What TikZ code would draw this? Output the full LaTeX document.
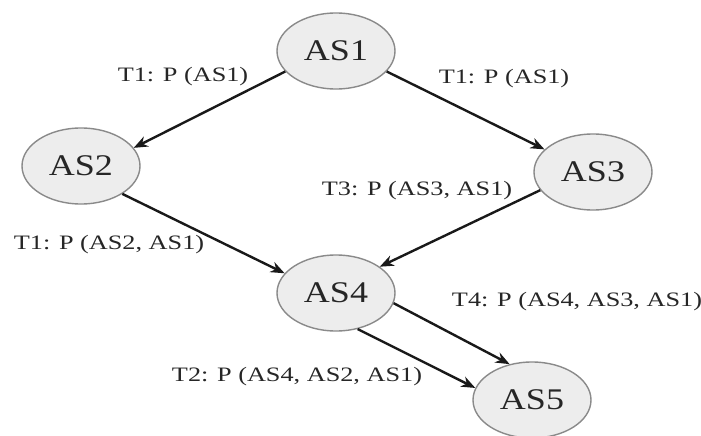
\documentclass[tikz,border=0pt]{standalone}
\usepackage{fontspec}
\setmainfont{Liberation Serif}
\newfontfamily\labfont[FakeStretch=1.28]{Liberation Serif}
\newfontfamily\asfont[FakeStretch=1.2]{Liberation Serif}
\usetikzlibrary{shapes.geometric,arrows.meta}
\definecolor{nodefill}{HTML}{EDEDED}
\definecolor{nodeline}{HTML}{8A8A8A}
\begin{document}
\begin{tikzpicture}[x=1pt,y=-1pt,
  asnode/.style={ellipse,draw=nodeline,fill=nodefill,line width=1.4pt,
    minimum width=118pt,minimum height=76pt,inner sep=0pt,
    font=\asfont\fontsize{30}{34}\selectfont,text=black!85},
  lab/.style={font=\labfont\fontsize{20.5}{23}\selectfont,text=black!85,inner sep=0pt},
  conn/.style={draw=black!90,line width=2.4pt,-{Stealth[length=14pt,width=11pt]}}]
\useasboundingbox (0,0) rectangle (701,436);
\fill[white] (0,0) rectangle (701,436);
\node[asnode] (AS1) at (336,51) {AS1};
\node[asnode] (AS2) at (81,166) {AS2};
\node[asnode] (AS3) at (593,172) {AS3};
\node[asnode] (AS4) at (336,293) {AS4};
\node[asnode] (AS5) at (532,400) {AS5};
\draw[conn] (AS1.-158) -- (AS2.19);
\draw[conn] (AS1.-22) -- (AS3.155);
\draw[conn] (AS2.-34) -- (AS4.159);
\draw[conn] (AS3.199) -- (AS4.31);
\draw[conn] (AS4.-10) -- (AS5.122);
\draw[conn] (AS4.-59) -- (AS5.168);
\node[lab] (l1) at (183,77) {T1: P (AS1)};
\node[lab] (l2) at (504,79) {T1: P (AS1)};
\node[lab] (l3) at (417,191) {T3: P (AS3, AS1)};
\node[lab] (l4) at (109,245) {T1: P (AS2, AS1)};
\node[lab] (l5) at (577,302) {T4: P (AS4, AS3, AS1)};
\node[lab] (l6) at (297,377) {T2: P (AS4, AS2, AS1)};
\end{tikzpicture}
\end{document}
